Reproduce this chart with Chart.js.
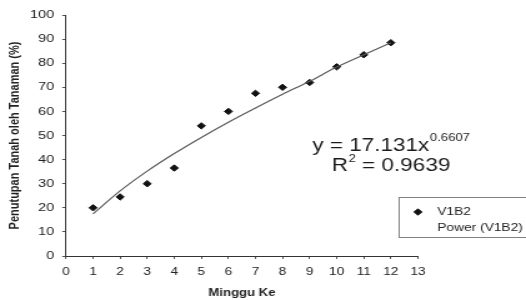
<!DOCTYPE html>
<html>
<head>
<meta charset="utf-8">
<script src="https://cdn.jsdelivr.net/npm/chart.js@4/dist/chart.umd.min.js"></script>
<style>
  html, body { margin: 0; padding: 0; background: #fff; overflow: hidden; }
</style>
</head>
<body>
<!-- the scanned figure is wider than tall, so the canvas is stretched sideways -->
<canvas id="cover" width="421" height="300" style="display:block;width:526px;height:300px"></canvas>
<script>
// Minggu ke- (week number)
const weeks = [1, 2, 3, 4, 5, 6, 7, 8, 9, 10, 11, 12];
// Penutupan tanah V1B2 (%)
const coverV1B2 = [20, 24.5, 30, 36.5, 54, 60, 67.5, 70, 72, 78.5, 83.5, 88.5];
// Power trendline
const powerTrend = [17.5, 27, 35.2, 42.5, 49.2, 55.5, 61.4, 67.1, 72.5, 78.4, 83.5, 88.5];

const xTicks = { min: 0, max: 13, step: 1 };
const yTicks = { min: 0, max: 100, step: 10 };

const seriesName = 'V1B2';
const trendName = 'Power (V1B2)';
const eqMain = 'y = 17.131x';
const eqExp = '0.6607';
const r2Label = 'R';
const r2Value = ' = 0.9639';

const FONT = '"Liberation Sans", Arial, sans-serif';
Chart.defaults.font.family = FONT;
Chart.defaults.color = '#222';

const toPts = (xs, ys) => xs.map((x, i) => ({ x: x, y: ys[i] }));

// equation text and the boxed legend, drawn like the Excel figure
const extras = {
    id: 'extras',
    afterDraw(chart) {
        const ctx = chart.ctx;
        ctx.save();
        ctx.fillStyle = '#1c1c1c';
        ctx.textBaseline = 'alphabetic';

        // y = 17.131x^0.6607
        ctx.font = '18px ' + FONT;
        ctx.fillText(eqMain, 250, 151);
        let w = ctx.measureText(eqMain).width;
        ctx.font = '10.5px ' + FONT;
        ctx.fillText(eqExp, 250 + w + 0.5, 141);

        // R^2 = 0.9639
        ctx.font = '18px ' + FONT;
        ctx.fillText(r2Label, 265.5, 171);
        w = ctx.measureText(r2Label).width;
        ctx.font = '10.5px ' + FONT;
        ctx.fillText('2', 265.5 + w + 0.5, 162);
        const w2 = ctx.measureText('2').width;
        ctx.font = '18px ' + FONT;
        ctx.fillText(r2Value, 265.5 + w + w2 + 0.5, 171);

        // legend box
        ctx.strokeStyle = '#808080';
        ctx.lineWidth = 1;
        ctx.strokeRect(319.5, 197.5, 120, 40);
        ctx.fillStyle = '#111';
        ctx.strokeStyle = '#111';
        Chart.helpers.drawPoint(ctx, { pointStyle: 'rectRot', radius: 3.2, borderWidth: 1 }, 334.5, 212);
        ctx.fillStyle = '#222';
        ctx.font = '11px ' + FONT;
        ctx.textBaseline = 'middle';
        ctx.fillText(seriesName, 350, 212);
        ctx.fillText(trendName, 350, 228);
        ctx.restore();
    }
};

new Chart(document.getElementById('cover'), {
    type: 'scatter',
    data: {
        datasets: [
            {
                label: trendName,
                data: toPts(weeks, powerTrend),
                showLine: true,
                borderColor: '#5a5a5a',
                borderWidth: 1.2,
                pointRadius: 0,
                cubicInterpolationMode: 'monotone'
            },
            {
                label: seriesName,
                data: toPts(weeks, coverV1B2),
                pointStyle: 'rectRot',
                pointRadius: 3.2,
                backgroundColor: '#111',
                borderColor: '#111',
                borderWidth: 1
            }
        ]
    },
    options: {
        responsive: false,
        devicePixelRatio: 1,
        animation: false,
        layout: { padding: { left: 0, top: 15, right: 86.5, bottom: 0 } },
        plugins: {
            legend: { display: false },
            tooltip: { enabled: false }
        },
        scales: {
            x: {
                type: 'linear',
                min: xTicks.min,
                max: xTicks.max,
                ticks: { stepSize: xTicks.step, font: { size: 11 }, padding: 6, color: '#222' },
                grid: { drawOnChartArea: false, tickLength: 3, color: '#555' },
                border: { color: '#333', width: 1 },
                title: {
                    display: true,
                    text: 'Minggu Ke',
                    font: { size: 10.5, weight: 'bold' },
                    color: '#222',
                    padding: { top: 2, bottom: 1 }
                },
                afterFit(scale) { scale.height = 44; }
            },
            y: {
                min: yTicks.min,
                max: yTicks.max,
                ticks: { stepSize: yTicks.step, font: { size: 11.5 }, padding: 6.5, color: '#222' },
                grid: { drawOnChartArea: false, tickLength: 3, color: '#555' },
                border: { color: '#333', width: 1 },
                title: {
                    display: true,
                    text: 'Penutupan Tanah oleh Tanaman (%)',
                    font: { size: 11, weight: 'bold' },
                    color: '#222',
                    padding: { top: 5, bottom: 0 }
                },
                afterFit(scale) { scale.width = 52.8; }
            }
        }
    },
    plugins: [extras]
});
</script>
</body>
</html>
